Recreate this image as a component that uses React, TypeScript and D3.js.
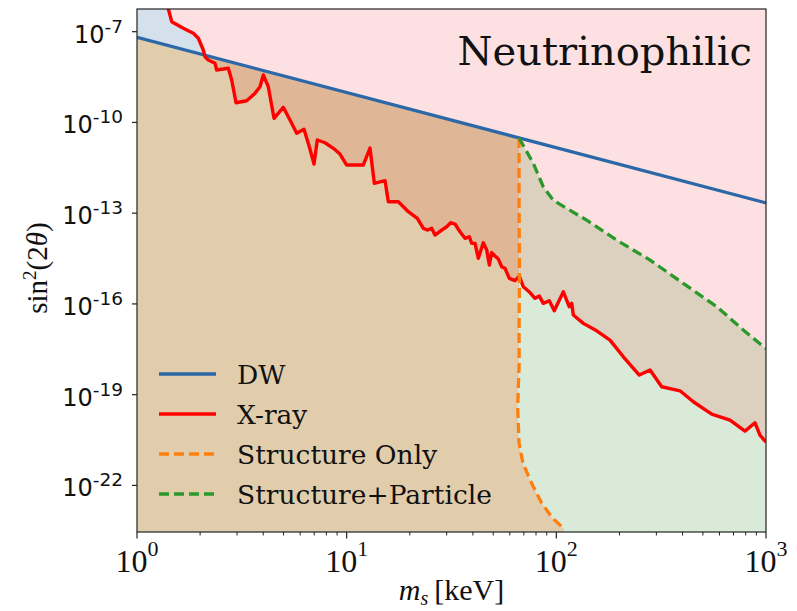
import React from "react";
import * as d3 from "d3";

// Figure size and plot frame (pixels)
const W = 797;
const H = 611;
const FRAME = { left: 137, right: 766, top: 9, bottom: 532 };

// Axis ranges: mass in keV, mixing angle as log10(sin^2 2θ)
const massRange: [number, number] = [1, 1000];
const logAngleRange: [number, number] = [-23.54, -6.25];

const xTickExponents = [0, 1, 2, 3];
const yTickExponents = [-7, -10, -13, -16, -19, -22];

// Dodelson–Widrow production line: [m_s (keV), log10 sin^2(2θ)]
const dwLine: [number, number][] = [
  [1, -7.185],
  [1000, -12.66],
];

// X-ray limit
const xrayLimit: [number, number][] = [
  [1.375, -5.95], [1.464, -6.669], [1.663, -6.888], [1.856, -7.053], [1.961, -7.218],
  [2.071, -7.605], [2.11, -7.827], [2.188, -7.936], [2.355, -8.045], [2.399, -8.267],
  [2.726, -8.21], [2.829, -8.597], [2.967, -9.348], [3.336, -9.282], [3.655, -9.037],
  [3.861, -8.819], [4.004, -8.432], [4.229, -8.819], [4.502, -9.864], [4.985, -9.5],
  [5.366, -9.92], [5.777, -10.36], [6.259, -10.228], [6.634, -10.803], [6.987, -11.375],
  [7.245, -10.581], [7.884, -10.671], [8.636, -10.856], [9.293, -11.044], [10.0, -11.408],
  [12.0, -11.408], [12.92, -10.846], [13.55, -12.013], [15.24, -11.927], [15.8, -12.622],
  [17.64, -12.622], [19.68, -12.952], [21.73, -13.171], [23.21, -13.501], [24.25, -13.558],
  [25.44, -13.501], [26.38, -13.723], [28.39, -13.558], [30.0, -13.448], [31.34, -13.316],
  [32.87, -13.359], [34.72, -13.614], [36.67, -13.832], [38.46, -13.779], [39.48, -13.997],
  [40.94, -13.997], [42.45, -14.493], [44.85, -13.978], [46.56, -14.219], [47.9, -14.715],
  [49.18, -14.302], [50.99, -14.417], [52.88, -14.517], [54.89, -14.771], [56.91, -14.824],
  [59.67, -15.155], [63.52, -15.228], [66.6, -15.079], [69.58, -15.433], [74.86, -15.624],
  [79.1, -15.816], [82.93, -15.74], [86.66, -15.981], [92.54, -15.895], [97.78, -16.226],
  [108.0, -15.598], [115.3, -16.094], [118.4, -15.981], [120.5, -16.368], [134.5, -16.643],
  [155.8, -16.888], [180.3, -17.195], [208.7, -17.747], [248.7, -18.352], [279.8, -18.187],
  [318.1, -18.739], [388.9, -18.872], [450.1, -19.235], [550.8, -19.642], [673.3, -19.841],
  [793.9, -20.204], [886.2, -19.93], [935.9, -20.336], [1000, -20.568],
];

// Structure-formation bound only
const structureOnly: [number, number][] = [
  [66.4, -10.515], [66.4, -12.5], [66.7, -15.2], [66.4, -16.9], [66.5, -17.95],
  [65.4, -19.4], [66.4, -20.6], [69.3, -21.26], [74.9, -21.82], [85.1, -22.58],
  [95.0, -23.05], [108.8, -23.44],
];

// Structure formation plus particle-physics bound
const structureParticle: [number, number][] = [
  [66.4, -10.515], [77.6, -11.35], [86.7, -12.13], [96.7, -12.57], [112, -12.84],
  [139.6, -13.23], [194, -13.89], [280, -14.55], [403, -15.32], [582, -16.09],
  [779, -16.86], [1000, -17.48],
];

const legendItems = [
  { label: "DW", color: "#2c68a8", dash: "" },
  { label: "X-ray", color: "#ff0000", dash: "" },
  { label: "Structure Only", color: "#ff7f0e", dash: "10,5" },
  { label: "Structure+Particle", color: "#2a982a", dash: "10,5" },
];

const COLORS = {
  pink: "#fde0e1",
  blue: "#d4e0ec",
  tan: "#e1cdac",
  brown: "#dfb797",
  greyTan: "#dbd1be",
  green: "#d9ead9",
};

export default function App() {
  const x = d3.scaleLog().domain(massRange).range([FRAME.left, FRAME.right]);
  const yLog = d3
    .scaleLinear()
    .domain(logAngleRange)
    .range([FRAME.bottom, FRAME.top]);

  const line = d3
    .line<[number, number]>()
    .x((d) => x(d[0]))
    .y((d) => yLog(d[1]));
  const poly = (pts: [number, number][]) => line(pts) + "Z";

  const HIGH = -4;
  const LOW = -26;

  const aboveDW: [number, number][] = [...dwLine, [1000, HIGH], [1, HIGH]];
  const aboveXray: [number, number][] = [
    ...xrayLimit,
    [1000, HIGH],
    [xrayLimit[0][0], HIGH],
  ];
  const lastStruct = structureOnly[structureOnly.length - 1];
  const leftRegion: [number, number][] = [
    [1, LOW],
    dwLine[0],
    ...structureOnly,
    [lastStruct[0], LOW],
  ];
  const rightRegion: [number, number][] = [
    ...structureParticle,
    [1000, LOW],
    [lastStruct[0], LOW],
    ...[...structureOnly].reverse(),
  ];

  const xMinor: number[] = [];
  for (let e = 0; e < 3; e++) {
    for (let k = 2; k <= 9; k++) xMinor.push(k * Math.pow(10, e));
  }

  const pw = FRAME.right - FRAME.left;
  const ph = FRAME.bottom - FRAME.top;

  return (
    <svg
      width={W}
      height={H}
      style={{ position: "absolute", left: 0, top: 0, background: "#fff" }}
    >
      <defs>
        <clipPath id="plotArea">
          <rect x={FRAME.left} y={FRAME.top} width={pw} height={ph} />
        </clipPath>
        <clipPath id="aboveXrayClip">
          <path d={poly(aboveXray)} />
        </clipPath>
      </defs>

      <g clipPath="url(#plotArea)">
        <rect x={FRAME.left} y={FRAME.top} width={pw} height={ph} fill={COLORS.pink} />
        <path d={poly(aboveDW)} fill={COLORS.blue} />
        <path d={poly(aboveXray)} fill={COLORS.pink} />
        <path d={poly(leftRegion)} fill={COLORS.tan} />
        <path d={poly(leftRegion)} fill={COLORS.brown} clipPath="url(#aboveXrayClip)" />
        <path d={poly(rightRegion)} fill={COLORS.green} />
        <path d={poly(rightRegion)} fill={COLORS.greyTan} clipPath="url(#aboveXrayClip)" />

        <path d={line(dwLine)!} fill="none" stroke={legendItems[0].color} strokeWidth={3.3} />
        <path
          d={line(xrayLimit)!}
          fill="none"
          stroke={legendItems[1].color}
          strokeWidth={3.4}
          strokeLinejoin="round"
        />
        <path
          d={line(structureOnly)!}
          fill="none"
          stroke={legendItems[2].color}
          strokeWidth={3.3}
          strokeDasharray={legendItems[2].dash}
        />
        <path
          d={line(structureParticle)!}
          fill="none"
          stroke={legendItems[3].color}
          strokeWidth={3.3}
          strokeDasharray={legendItems[3].dash}
        />

        <text
          x={752}
          y={65}
          textAnchor="end"
          fontFamily="DejaVu Serif"
          fontSize={40}
          fill="#111"
        >
          Neutrinophilic
        </text>

        {legendItems.map((item, i) => {
          const ly = 374 + i * 40;
          return (
            <g key={item.label}>
              <line
                x1={159}
                x2={216}
                y1={ly}
                y2={ly}
                stroke={item.color}
                strokeWidth={3.3}
                strokeDasharray={item.dash}
              />
              <text x={237} y={ly + 10} fontFamily="DejaVu Serif" fontSize={26.5} fill="#111">
                {item.label}
              </text>
            </g>
          );
        })}
      </g>

      <rect
        x={FRAME.left}
        y={FRAME.top}
        width={pw}
        height={ph}
        fill="none"
        stroke="#222"
        strokeWidth={1.2}
      />

      {/* x axis ticks */}
      {xTickExponents.map((e) => {
        const px = x(Math.pow(10, e));
        return (
          <g key={"xt" + e}>
            <line x1={px} x2={px} y1={FRAME.bottom} y2={FRAME.bottom + 6.5} stroke="#222" strokeWidth={1.2} />
            <text
              x={px}
              y={572}
              textAnchor="middle"
              fontFamily="Liberation Serif"
              fontSize={32}
              fill="#111"
            >
              10
              <tspan dy={-16} fontSize={22}>
                {e}
              </tspan>
            </text>
          </g>
        );
      })}
      {xMinor.map((v) => (
        <line
          key={"xm" + v}
          x1={x(v)}
          x2={x(v)}
          y1={FRAME.bottom}
          y2={FRAME.bottom + 3.5}
          stroke="#222"
          strokeWidth={1}
        />
      ))}

      {/* y axis ticks */}
      {yTickExponents.map((e) => {
        const py = yLog(e);
        return (
          <g key={"yt" + e}>
            <line x1={FRAME.left - 5} x2={FRAME.left} y1={py} y2={py} stroke="#222" strokeWidth={1.2} />
            <text
              x={123}
              y={py + 11}
              textAnchor="end"
              fontFamily="DejaVu Sans"
              fontSize={24}
              fill="#111"
            >
              10
              <tspan dy={-10} fontSize={18.5}>
                {String(e)}
              </tspan>
            </text>
          </g>
        );
      })}

      {/* axis titles */}
      <text
        x={(FRAME.left + FRAME.right) / 2}
        y={600}
        textAnchor="middle"
        fontFamily="Liberation Serif"
        fontSize={30}
        fill="#111"
      >
        <tspan fontStyle="italic">m</tspan>
        <tspan fontStyle="italic" fontSize={20} dy={5}>
          s
        </tspan>
        <tspan dy={-5}>{"\u2009[keV]"}</tspan>
      </text>
      <text
        transform={`translate(47, 268) rotate(-90)`}
        textAnchor="middle"
        fontFamily="Liberation Serif"
        fontSize={29}
        fill="#111"
      >
        sin
        <tspan dy={-11} fontSize={19}>
          2
        </tspan>
        <tspan dy={11}>(2</tspan>
        <tspan fontStyle="italic">θ</tspan>
        <tspan>)</tspan>
      </text>
    </svg>
  );
}
